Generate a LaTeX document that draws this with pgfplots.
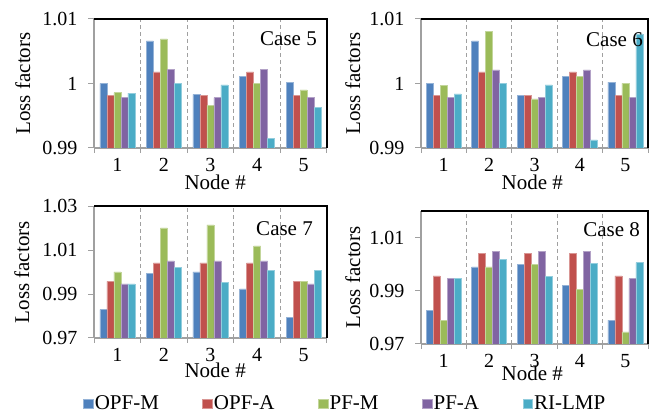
\documentclass[border=0pt]{standalone}
\usepackage{pgfplots}
\usepackage{pgfplotstable}
\pgfplotsset{compat=1.18}
\usepackage{fontspec}
\setmainfont{Liberation Serif}
\definecolor{cA}{HTML}{4F81BD}
\definecolor{cB}{HTML}{C0504D}
\definecolor{cC}{HTML}{9BBB59}
\definecolor{cD}{HTML}{8064A2}
\definecolor{cE}{HTML}{4BACC6}
\definecolor{axgray}{HTML}{A0A0A0}

\pgfplotstableread{
x opfm opfa pfm pfa ri
1 1.0000 0.9982 0.9986 0.9978 0.9985
2 1.0066 1.0018 1.0069 1.0022 1.0000
3 0.9983 0.9982 0.9966 0.9978 0.9998
4 1.0011 1.0018 1.0000 1.0022 0.9915
5 1.0002 0.9982 0.9990 0.9978 0.9963
}\caseV
\pgfplotstableread{
x opfm opfa pfm pfa ri
1 1.0000 0.9982 0.9997 0.9978 0.9984
2 1.0066 1.0018 1.0081 1.0021 1.0000
3 0.9981 0.9981 0.9976 0.9978 0.9998
4 1.0011 1.0018 1.0011 1.0021 0.99125
5 1.0002 0.9982 1.0000 0.9978 1.0077
}\caseVI
\pgfplotstableread{
x opfm opfa pfm pfa ri
1 0.9829 0.9958 1.0002 0.9947 0.9947
2 0.9993 1.0043 1.0202 1.0052 1.0022
3 1.0002 1.0043 1.0216 1.0052 0.9955
4 0.9924 1.0043 1.0120 1.0052 1.0008
5 0.9795 0.9958 0.9958 0.9947 1.0008
}\caseVII
\pgfplotstableread{
x opfm opfa pfm pfa ri
1 0.9825 0.9956 0.9790 0.9946 0.9946
2 0.9990 1.0041 0.9990 1.0048 1.0018
3 0.9998 1.0041 0.9998 1.0048 0.9954
4 0.9921 1.0041 0.9906 1.0048 1.0003
5 0.9790 0.9956 0.9746 0.9946 1.0006
}\caseVIII

\pgfplotsset{
  panel/.style={
    scale only axis,
    ybar=0pt, bar width=7pt,
    xmin=0.5, xmax=5.5,
    xtick={1,2,3,4,5},
    minor xtick={0.5,1.5,2.5,3.5,4.5,5.5},
    xminorgrids=true,
    minor x grid style={draw=axgray, line width=0.8pt, dash pattern=on 4pt off 3pt},
    axis x line*=bottom, axis y line*=left,
    axis line style={draw=axgray, line width=2pt, -},
    tick align=outside,
    major x tick style={draw=none},
    minor x tick style={draw=axgray, line width=1pt},
    y tick style={draw=axgray, line width=1pt},
    major tick length=6pt, minor tick length=5pt,
    tick label style={font=\fontsize{20}{24}\selectfont},
    label style={font=\fontsize{21}{25}\selectfont},
    yticklabel style={xshift=-7pt},
    xticklabel style={yshift=-1pt},
    /pgf/number format/assume math mode=true,
    ylabel={Loss factors}, xlabel={Node \#},
    after end axis/.code={\draw[black, line width=2pt] (rel axis cs:0,1) -- (rel axis cs:1,1) -- (rel axis cs:1,0);},
  },
  ser/.style={fill=#1, draw=#1!60!white, line width=0.5pt},
}

\begin{document}
\begin{tikzpicture}
\useasboundingbox (0,0) rectangle (650pt,414pt);
% Case 5
\begin{axis}[panel, at={(94pt,266pt)}, anchor=south west, width=233pt, height=129pt,
  ymin=0.99, ymax=1.01, ytick={0.99,1,1.01}, yticklabels={0.99,1,1.01},
  ylabel style={at={(axis description cs:-0.305,0.5)}, anchor=center},
  xlabel style={at={(axis description cs:0.52,-0.264)}, anchor=center}]
\addplot[ser=cA] table[x=x,y=opfm]{\caseV};
\addplot[ser=cB] table[x=x,y=opfa]{\caseV};
\addplot[ser=cC] table[x=x,y=pfm]{\caseV};
\addplot[ser=cD] table[x=x,y=pfa]{\caseV};
\addplot[ser=cE] table[x=x,y=ri]{\caseV};
\node[anchor=north east, inner sep=0pt, font=\fontsize{21}{25}\selectfont] at (axis description cs:0.957,0.907) {Case 5};
\end{axis}
% Case 6
\begin{axis}[panel, at={(421pt,266pt)}, anchor=south west, width=227pt, height=129pt,
  ymin=0.99, ymax=1.01, ytick={0.99,1,1.01}, yticklabels={0.99,1,1.01},
  ylabel style={at={(axis description cs:-0.30,0.5)}, anchor=center},
  xlabel style={at={(axis description cs:0.49,-0.264)}, anchor=center}]
\addplot[ser=cA] table[x=x,y=opfm]{\caseVI};
\addplot[ser=cB] table[x=x,y=opfa]{\caseVI};
\addplot[ser=cC] table[x=x,y=pfm]{\caseVI};
\addplot[ser=cD] table[x=x,y=pfa]{\caseVI};
\addplot[ser=cE] table[x=x,y=ri]{\caseVI};
\node[anchor=north east, inner sep=0pt, font=\fontsize{21}{25}\selectfont] at (axis description cs:0.978,0.899) {Case 6};
\end{axis}
% Case 7
\begin{axis}[panel, at={(94pt,76pt)}, anchor=south west, width=233pt, height=131.6pt,
  ymin=0.97, ymax=1.03, ytick={0.97,0.99,1.01,1.03}, yticklabels={0.97,0.99,1.01,1.03},
  ylabel style={at={(axis description cs:-0.31,0.5)}, anchor=center},
  xlabel style={at={(axis description cs:0.52,-0.244)}, anchor=center},
  legend columns=5,
  legend style={at={(axis description cs:-0.047,-0.50)}, anchor=west, draw=none, fill=none,
    inner sep=0pt, font=\fontsize{21}{25}\selectfont, nodes={inner sep=1.5pt},
    /tikz/every even column/.append style={column sep=42pt}},
  legend image code/.code={\fill[#1] (0pt,-4.75pt) rectangle (9.5pt,4.75pt);}]
\addplot[ser=cA] table[x=x,y=opfm]{\caseVII};
\addplot[ser=cB] table[x=x,y=opfa]{\caseVII};
\addplot[ser=cC] table[x=x,y=pfm]{\caseVII};
\addplot[ser=cD] table[x=x,y=pfa]{\caseVII};
\addplot[ser=cE] table[x=x,y=ri]{\caseVII};
\legend{OPF-M,OPF-A,PF-M,PF-A,RI-LMP}
\node[anchor=north east, inner sep=0pt, font=\fontsize{21}{25}\selectfont] at (axis description cs:0.94,0.885) {Case 7};
\end{axis}
% Case 8
\begin{axis}[panel, at={(421pt,70pt)}, anchor=south west, width=227pt, height=133pt,
  ymin=0.97, ymax=1.02, ytick={0.97,0.99,1.01}, yticklabels={0.97,0.99,1.01},
  ylabel style={at={(axis description cs:-0.30,0.5)}, anchor=center},
  xlabel style={at={(axis description cs:0.49,-0.218)}, anchor=center}]
\addplot[ser=cA] table[x=x,y=opfm]{\caseVIII};
\addplot[ser=cB] table[x=x,y=opfa]{\caseVIII};
\addplot[ser=cC] table[x=x,y=pfm]{\caseVIII};
\addplot[ser=cD] table[x=x,y=pfa]{\caseVIII};
\addplot[ser=cE] table[x=x,y=ri]{\caseVIII};
\node[anchor=north east, inner sep=0pt, font=\fontsize{21}{25}\selectfont] at (axis description cs:0.965,0.917) {Case 8};
\end{axis}
\end{tikzpicture}
\end{document}
